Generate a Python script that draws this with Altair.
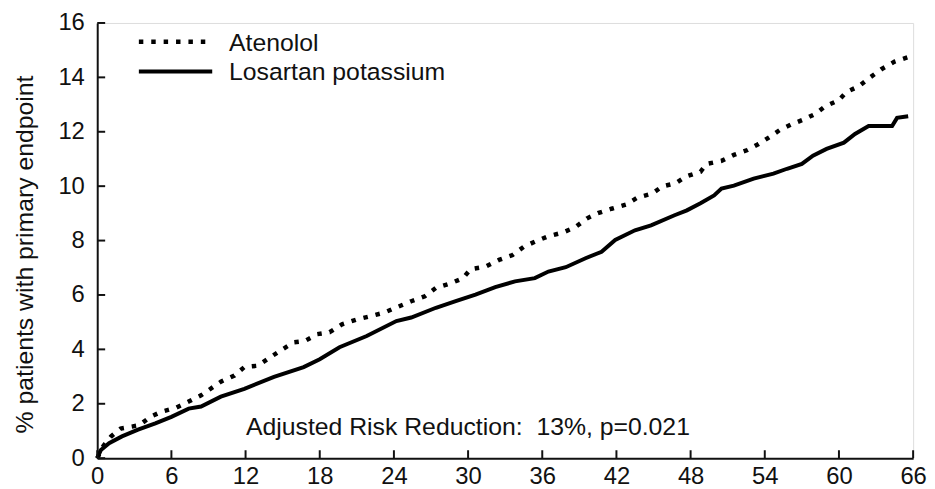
import altair as alt
import pandas as pd

# ---- data ----
aten_t = [0, 0.5, 1.1, 1.9, 3.4, 4.3, 5.2, 6.4, 7.4, 8.4, 10.0, 11.1, 11.9, 13.0, 13.9, 14.8,
          15.9, 16.8, 17.8, 18.8, 19.8, 21.0, 22.1, 23.2, 24.2, 25.4, 26.5, 27.4, 28.5, 29.6,
          30.2, 31.4, 32.5, 33.6, 34.5, 35.5, 36.5, 37.7, 38.7, 39.6, 40.5, 41.6, 42.8, 43.7,
          44.9, 45.7, 46.8, 47.6, 48.8, 49.3, 50.5, 51.5, 52.6, 53.5, 54.4, 55.2, 56.2, 57.2,
          58.1, 58.9, 60.0, 60.6, 61.6, 62.4, 63.4, 64.5, 65.7]
aten_v = [0, 0.45, 0.79, 1.09, 1.21, 1.52, 1.71, 1.86, 2.08, 2.31, 2.81, 3.04, 3.35, 3.40, 3.68,
          3.95, 4.26, 4.31, 4.56, 4.63, 4.92, 5.10, 5.22, 5.35, 5.54, 5.77, 5.95, 6.26, 6.41,
          6.62, 6.95, 7.04, 7.29, 7.47, 7.77, 7.98, 8.16, 8.30, 8.50, 8.81, 9.01, 9.17, 9.33,
          9.58, 9.73, 9.99, 10.11, 10.35, 10.53, 10.82, 10.93, 11.15, 11.33, 11.55, 11.81,
          12.06, 12.28, 12.46, 12.66, 12.94, 13.16, 13.46, 13.67, 13.96, 14.29, 14.58, 14.76]

los_t = [0, 0.3, 0.96, 2.0, 3.3, 4.7, 6.0, 7.4, 8.4, 10.0, 11.9, 14.3, 16.7, 18.0, 19.6, 21.8,
         24.2, 25.4, 27.4, 29.0, 30.6, 32.2, 33.8, 35.4, 36.5, 37.9, 39.5, 40.8, 41.9, 43.5,
         44.8, 46.7, 47.7, 48.8, 49.9, 50.5, 51.5, 53.1, 54.7, 55.8, 57.0, 57.9, 59.0, 60.4,
         61.3, 62.4, 64.3, 64.7, 65.6]
los_v = [0, 0.3, 0.55, 0.80, 1.05, 1.28, 1.52, 1.82, 1.90, 2.26, 2.55, 2.99, 3.35, 3.64, 4.08,
         4.49, 5.04, 5.17, 5.53, 5.77, 6.01, 6.29, 6.50, 6.62, 6.86, 7.02, 7.35, 7.59, 8.02,
         8.38, 8.56, 8.93, 9.11, 9.37, 9.66, 9.91, 10.02, 10.28, 10.46, 10.64, 10.82, 11.12,
         11.37, 11.60, 11.92, 12.21, 12.21, 12.51, 12.57]

series_names = ["Atenolol", "Losartan potassium"]
x_ticks = [0, 6, 12, 18, 24, 30, 36, 42, 48, 54, 60, 66]
y_ticks = [0, 2, 4, 6, 8, 10, 12, 14, 16]
y_title = "% patients with primary endpoint"
note = "Adjusted Risk Reduction:\u00a0 13%, p=0.021"

W, H = 823, 439
FONT = "Liberation Sans"
INK = "#111111"

aten = pd.DataFrame({"t": aten_t, "v": aten_v})
los = pd.DataFrame({"t": los_t, "v": los_v})

xscale = alt.Scale(domain=[0, 66], nice=False, zero=False)
yscale = alt.Scale(domain=[0, 16], nice=False)

xaxis = alt.Axis(values=x_ticks, tickSize=0, labelFontSize=24, labelFont=FONT,
                 labelColor=INK, labelPadding=7, domainColor=INK, domainWidth=2,
                 grid=False, title=None, labelFlush=False)
yaxis = alt.Axis(values=y_ticks, tickSize=0, labelFontSize=24, labelFont=FONT,
                 labelColor=INK, labelPadding=13, domainColor=INK, domainWidth=2,
                 grid=False, title=y_title, titleFontSize=25, titleFont=FONT,
                 titleFontWeight="normal", titleColor=INK, titleAngle=270,
                 titleAlign="center", titleBaseline="middle", titleX=-73, titleY=233)

base_x = alt.X("t:Q", scale=xscale, axis=xaxis)
base_y = alt.Y("v:Q", scale=yscale, axis=yaxis)

aten_line = alt.Chart(aten).mark_line(color="black", strokeWidth=4.5,
                                      strokeDash=[4.5, 8], strokeCap="butt").encode(
    x=base_x, y=base_y)
los_line = alt.Chart(los).mark_line(color="black", strokeWidth=4).encode(
    x=alt.X("t:Q", scale=xscale), y=alt.Y("v:Q", scale=yscale))

xt = alt.Chart(pd.DataFrame({"t": x_ticks})).mark_rule(color=INK, strokeWidth=2).encode(
    x=alt.X("t:Q", scale=xscale), y=alt.value(H), y2=alt.value(H - 8))
yt = alt.Chart(pd.DataFrame({"v": y_ticks})).mark_rule(color=INK, strokeWidth=2).encode(
    y=alt.Y("v:Q", scale=yscale), x=alt.value(0), x2=alt.value(8))

# legend (drawn manually)
leg_dot = alt.Chart(pd.DataFrame({"s": [series_names[0]]})).mark_rule(
    color="black", strokeWidth=4.5, strokeDash=[4.5, 8], strokeCap="butt").encode(
    x=alt.value(42), x2=alt.value(116), y=alt.value(19))
leg_solid = alt.Chart(pd.DataFrame({"s": [series_names[1]]})).mark_rule(
    color="black", strokeWidth=4).encode(
    x=alt.value(42), x2=alt.value(116), y=alt.value(49))
leg_t1 = alt.Chart(pd.DataFrame({"s": [series_names[0]]})).mark_text(
    align="left", baseline="middle", fontSize=25, font=FONT, color=INK).encode(
    x=alt.value(133), y=alt.value(20), text="s:N")
leg_t2 = alt.Chart(pd.DataFrame({"s": [series_names[1]]})).mark_text(
    align="left", baseline="middle", fontSize=25, font=FONT, color=INK).encode(
    x=alt.value(133), y=alt.value(50), text="s:N")

note_t = alt.Chart(pd.DataFrame({"s": [note]})).mark_text(
    align="left", baseline="alphabetic", fontSize=25, font=FONT, color=INK).encode(
    x=alt.value(150), y=alt.value(416), text="s:N")

chart = alt.layer(aten_line, los_line, xt, yt, leg_dot, leg_solid, leg_t1, leg_t2, note_t).properties(
    width=W, height=H,
    autosize=alt.AutoSizeParams(type="none"),
    padding={"left": 90, "top": 13, "right": 14, "bottom": 29},
).configure_view(stroke=None).configure(background="white")

chart.save("out.html", embed_options={"renderer": "svg", "actions": False})
